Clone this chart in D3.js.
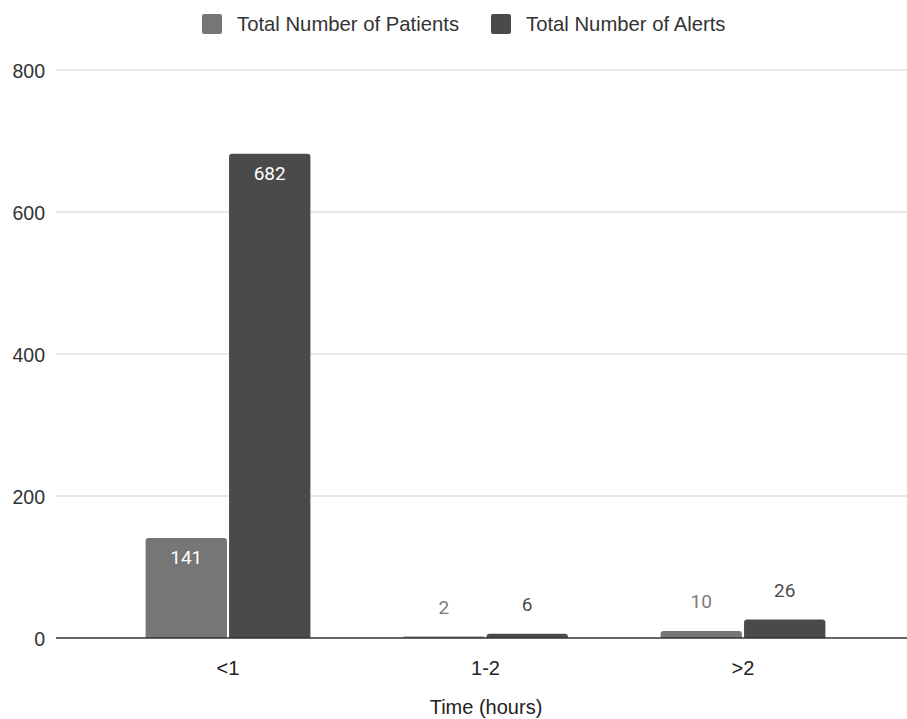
<!DOCTYPE html>
<html>
<head>
<meta charset="utf-8">
<script src="https://cdn.jsdelivr.net/npm/d3@7"></script>
<style>
  html, body { margin: 0; padding: 0; background: #fff; }
  svg { display: block; }
</style>
</head>
<body>
<svg id="chart" width="907" height="719"></svg>
<script>
// Time buckets and counts per bucket
const categories = ["<1", "1-2", ">2"];
const seriesNames = ["Total Number of Patients", "Total Number of Alerts"];
const patients = [141, 2, 10];
const alerts = [682, 6, 26];
const yTicks = [0, 200, 400, 600, 800];
const xTitle = "Time (hours)";

const colors = ["#767676", "#4a4a4a"];
const labelInsideColor = "#ffffff";
const labelOutsideColors = ["#7c7c7c", "#4d4d4d"];

const svg = d3.select("#chart");
const plot = { left: 56, right: 907, top: 70, bottom: 638 };

const y = d3.scaleLinear().domain([0, 800]).range([plot.bottom, plot.top]);
const x = d3.scaleBand().domain(categories)
  .range([99.25, 871.75]).paddingInner(0.36).paddingOuter(0.18);
const xs = d3.scaleBand().domain([0, 1]).range([0, x.bandwidth()]).paddingInner(0.025);

const axisFont = "'Liberation Sans', Arial, Helvetica, sans-serif";
const labelFont = "Roboto, 'Noto Sans', sans-serif";

// Gridlines
svg.append("g")
  .selectAll("line")
  .data(yTicks.filter(d => d !== 0))
  .join("line")
  .attr("x1", plot.left).attr("x2", plot.right)
  .attr("y1", d => y(d)).attr("y2", d => y(d))
  .attr("stroke", "#cfcfcf").attr("stroke-width", 1);

// Y tick labels
const yAxis = d3.axisLeft(y).tickValues(yTicks).tickSize(0).tickPadding(0);
const gy = svg.append("g").attr("transform", "translate(45,0)").call(yAxis);
gy.select(".domain").remove();
gy.selectAll("text")
  .attr("font-family", axisFont).attr("font-size", 19.5).attr("fill", "#333")
  .attr("dy", "0.36em");

// Bars with rounded top corners
function topRounded(x0, y0, w, h, r) {
  r = Math.min(r, h, w / 2);
  return `M${x0},${y0 + h}V${y0 + r}Q${x0},${y0} ${x0 + r},${y0}H${x0 + w - r}Q${x0 + w},${y0} ${x0 + w},${y0 + r}V${y0 + h}Z`;
}

const rows = categories.map((c, i) => ({ cat: c, vals: [patients[i], alerts[i]] }));
const groups = svg.append("g").selectAll("g").data(rows).join("g")
  .attr("transform", d => `translate(${x(d.cat)},0)`);

groups.selectAll("path")
  .data(d => d.vals.map((v, s) => ({ v, s })))
  .join("path")
  .attr("d", d => topRounded(xs(d.s), y(d.v), xs.bandwidth(), y(0) - y(d.v), 3))
  .attr("fill", d => colors[d.s]);

// Value labels: inside tall bars, above short ones
groups.selectAll("text")
  .data(d => d.vals.map((v, s) => ({ v, s })))
  .join("text")
  .attr("x", d => xs(d.s) + xs.bandwidth() / 2)
  .attr("y", d => (y(0) - y(d.v) > 40) ? y(d.v) + 26 : y(d.v) - 23)
  .attr("text-anchor", "middle")
  .attr("font-family", labelFont).attr("font-size", 19)
  .attr("fill", d => (y(0) - y(d.v) > 40) ? labelInsideColor : labelOutsideColors[d.s])
  .text(d => d.v);

// Baseline
svg.append("line")
  .attr("x1", plot.left).attr("x2", plot.right)
  .attr("y1", y(0)).attr("y2", y(0))
  .attr("stroke", "#333").attr("stroke-width", 1.5);

// X axis labels
const xAxis = d3.axisBottom(x).tickSize(0).tickPadding(0);
const gx = svg.append("g").attr("transform", `translate(0,${y(0)})`).call(xAxis);
gx.select(".domain").remove();
gx.selectAll("text")
  .attr("font-family", axisFont).attr("font-size", 20).attr("fill", "#222")
  .attr("y", 37).attr("dy", 0);

// Axis title
svg.append("text")
  .attr("x", 486).attr("y", 714)
  .attr("text-anchor", "middle")
  .attr("font-family", axisFont).attr("font-size", 20).attr("fill", "#222")
  .text(xTitle);

// Legend
const legend = svg.append("g");
const legendItems = [
  { name: seriesNames[0], color: colors[0], x: 202 },
  { name: seriesNames[1], color: colors[1], x: 491 }
];
legend.selectAll("rect").data(legendItems).join("rect")
  .attr("x", d => d.x).attr("y", 14).attr("width", 20).attr("height", 20)
  .attr("rx", 2).attr("fill", d => d.color);
legend.selectAll("text").data(legendItems).join("text")
  .attr("x", d => d.x + 35).attr("y", 31)
  .attr("font-family", axisFont).attr("font-size", 20.3).attr("fill", "#333")
  .text(d => d.name);
</script>
</body>
</html>
